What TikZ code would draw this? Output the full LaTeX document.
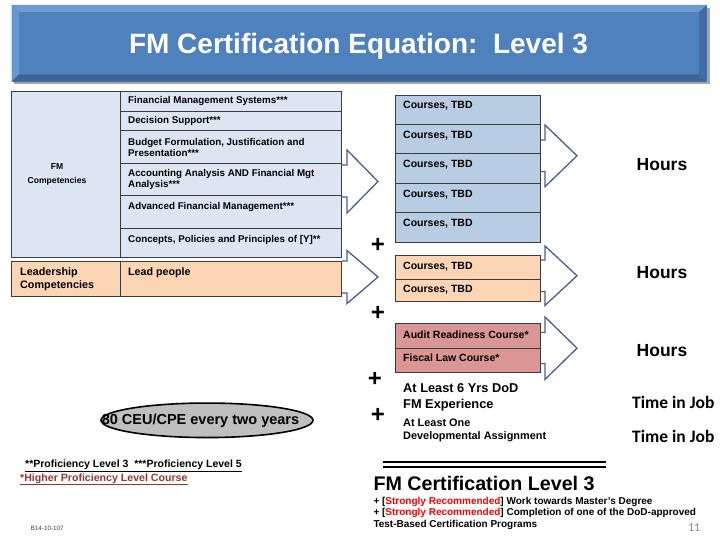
\documentclass[tikz,border=0pt]{standalone}
\usepackage{fontspec}
\setmainfont{Liberation Sans}
\newfontfamily\calibrifont{Carlito}
\usetikzlibrary{positioning, calc, shapes.geometric}
\definecolor{titleblue}{RGB}{79,129,189}
\definecolor{titlelight}{RGB}{110,155,210}
\definecolor{titledark}{RGB}{60,100,150}
\definecolor{rowblue}{RGB}{220,230,242}
\definecolor{courseblue}{RGB}{184,204,228}
\definecolor{courseorange}{RGB}{252,213,180}
\definecolor{coursered}{RGB}{217,150,148}
\definecolor{arrowblue}{RGB}{74,96,138}
\definecolor{cellgray}{RGB}{60,60,60}
\definecolor{ceugray}{RGB}{191,191,191}
\definecolor{footred}{RGB}{149,55,53}
\definecolor{numgray}{RGB}{137,137,137}

\tikzset{
  tablecell/.style={draw=cellgray, line width=0.9pt, anchor=north west, inner sep=0pt, outer sep=0pt},
  rowtext/.style={anchor=west, inner sep=0pt, align=left, font=\bfseries\fontsize{9.8}{11.3}\selectfont},
  coursetext/.style={anchor=west, inner sep=0pt, font=\bfseries\fontsize{10.5}{12}\selectfont},
  blockarrow/.style={draw=arrowblue, line width=1.3pt, fill=white, line join=miter},
  plussign/.style={inner sep=0pt, font=\bfseries\fontsize{24}{24}\selectfont},
  hourstext/.style={inner sep=0pt, font=\bfseries\fontsize{17.5}{20}\selectfont},
  jobtext/.style={inner sep=0pt, font=\calibrifont\bfseries\fontsize{17.5}{20}\selectfont},
  plaintext/.style={anchor=west, inner sep=0pt, align=left},
}

\begin{document}
\begin{tikzpicture}[x=1pt, y=-1pt]
\useasboundingbox[fill=white] (0,0) rectangle (720,540);

% title bar
\fill[black!35] (14,8) rectangle (709.5,84);
\fill[titleblue] (11.7,5) rectangle (706.7,81.7);
\fill[titlelight] (11.7,5) -- (706.7,5) -- (699,12) -- (19,12) -- cycle;
\fill[titlelight!80!titleblue] (11.7,5) -- (19,12) -- (19,74.5) -- (11.7,81.7) -- cycle;
\fill[titledark] (11.7,81.7) -- (19,74.5) -- (699,74.5) -- (706.7,81.7) -- cycle;
\fill[titledark!70!titleblue] (706.7,5) -- (699,12) -- (699,74.5) -- (706.7,81.7) -- cycle;
\node[text=white, inner sep=0pt, font=\bfseries\fontsize{28}{30}\selectfont] (title) at (358.5,46) {FM Certification Equation:\ \ Level 3};

% block arrows
\draw[blockarrow] (342,165) -- (347,165) -- (347,150) -- (378,181.5) -- (347,213) -- (347,197) -- (342,197);
\draw[blockarrow] (342,261) -- (347,261) -- (347,250.5) -- (378,277) -- (347,303.5) -- (347,293) -- (342,293);
\draw[blockarrow] (540,140) -- (545,140) -- (545,125) -- (577,155.8) -- (545,186.6) -- (545,171.5) -- (540,171.5);
\draw[blockarrow] (540,260) -- (545,260) -- (545,246) -- (577,275.7) -- (545,305.4) -- (545,291.4) -- (540,291.4);
\draw[blockarrow] (540,332.5) -- (545,332.5) -- (545,317) -- (577,348.2) -- (545,379.4) -- (545,363.5) -- (540,363.5);

% FM competencies
\node[tablecell, fill=rowblue, minimum width=108.3pt, minimum height=165.6pt] (fmhead) at (11.7,91.7) {};
\node[inner sep=0pt, align=center, font=\bfseries\fontsize{8.6}{14.7}\selectfont] (fmheadtext) at (57,174.5) {FM\\Competencies};
\node[tablecell, fill=rowblue, minimum width=221.7pt, minimum height=19.3pt] (fms) at (120,91.7) {};
\node[rowtext] (fmstext) at (128,101) {Financial Management Systems***};
\node[tablecell, fill=rowblue, minimum width=221.7pt, minimum height=19.7pt] (ds) at (120,111) {};
\node[rowtext] (dstext) at (128,121) {Decision Support***};
\node[tablecell, fill=rowblue, minimum width=221.7pt, minimum height=33pt] (bud) at (120,130.7) {};
\node[rowtext] (budtext) at (128,147.4) {Budget Formulation, Justification and\\Presentation***};
\node[tablecell, fill=rowblue, minimum width=221.7pt, minimum height=32pt] (acc) at (120,163.7) {};
\node[rowtext] (acctext) at (128,179.7) {Accounting Analysis AND Financial Mgt\\Analysis***};
\node[tablecell, fill=rowblue, minimum width=221.7pt, minimum height=32.6pt] (afm) at (120,195.7) {};
\node[rowtext] (afmtext) at (128,206.7) {Advanced Financial Management***};
\node[tablecell, fill=rowblue, minimum width=221.7pt, minimum height=29pt] (cpp) at (120,228.3) {};
\node[rowtext] (cpptext) at (128,240) {Concepts, Policies and Principles of [Y]**};

% leadership competencies
\node[tablecell, fill=courseorange, minimum width=108.3pt, minimum height=35pt] (leadhead) at (11.7,261.7) {};
\node[plaintext, font=\bfseries\fontsize{10.8}{13.7}\selectfont] (leadheadtext) at (20,279.2) {Leadership\\Competencies};
\node[tablecell, fill=courseorange, minimum width=221.7pt, minimum height=35pt] (lead) at (120,261.7) {};
\node[plaintext, font=\bfseries\fontsize{10.7}{12}\selectfont] (leadtext) at (128,272.3) {Lead people};

% courses
\foreach \i in {0,...,4}{
  \node[tablecell, fill=courseblue, minimum width=145pt, minimum height=29.4pt] (cb\i) at (395,{95+29.4*\i}) {};
  \node[coursetext] (cbt\i) at ([xshift=8pt,yshift=-11pt]cb\i.north west) {Courses, TBD};
}
\node[tablecell, fill=courseorange, minimum width=145pt, minimum height=23.3pt] (co0) at (395,255.7) {};
\node[coursetext] (cot0) at ([xshift=8pt,yshift=-10.5pt]co0.north west) {Courses, TBD};
\node[tablecell, fill=courseorange, minimum width=145pt, minimum height=22.7pt] (co1) at (395,279) {};
\node[coursetext] (cot1) at ([xshift=8pt,yshift=-10.2pt]co1.north west) {Courses, TBD};
\node[tablecell, fill=coursered, minimum width=145pt, minimum height=25pt] (cr0) at (395,323) {};
\node[coursetext] (crt0) at ([xshift=8pt,yshift=-11.3pt]cr0.north west) {Audit Readiness Course*};
\node[tablecell, fill=coursered, minimum width=145pt, minimum height=24pt] (cr1) at (395,348) {};
\node[coursetext] (crt1) at ([xshift=8pt,yshift=-9.8pt]cr1.north west) {Fiscal Law Course*};

% plus signs
\node[plussign] (plusa) at (378,245) {+};
\node[plussign] (plusb) at (378,313) {+};
\node[plussign] (plusc) at (375,379.5) {+};
\node[plussign] (plusd) at (378,415) {+};

% experience
\node[plaintext, font=\bfseries\fontsize{12.8}{15.5}\selectfont] (exp) at (403,397.5) {At Least 6 Yrs DoD\\FM Experience};
\node[plaintext, font=\bfseries\fontsize{10.9}{12.7}\selectfont] (dev) at (403,430.3) {At Least One\\Developmental Assignment};

% results
\node[hourstext] (hoursa) at (662,164.5) {Hours};
\node[hourstext] (hoursb) at (662,272.7) {Hours};
\node[hourstext] (hoursc) at (662,351) {Hours};
\node[jobtext] (joba) at (673.3,402.7) {Time in Job};
\node[jobtext] (jobb) at (673.3,436) {Time in Job};

% CEU
\node[ellipse, draw=black, line width=1.6pt, fill=ceugray, minimum width=212pt, minimum height=34.5pt, inner sep=0pt] (ceu) at (207,420.3) {};
\node[inner sep=0pt, font=\bfseries\fontsize{14.5}{16}\selectfont] (ceutext) at (200.5,420.5) {80 CEU/CPE every two years};

% footnotes
\node[plaintext, font=\bfseries\fontsize{10.5}{12}\selectfont] (foota) at (25,466) {\underline{**Proficiency Level 3\ \ ***Proficiency Level 5}};
\node[plaintext, text=footred, font=\bfseries\fontsize{10.6}{12}\selectfont] (footb) at (20,479.3) {\underline{*Higher Proficiency Level Course}};
\node[plaintext, text=black!75, font=\fontsize{6.3}{7}\selectfont] (code) at (30.5,528) {B14-10-107};

% level 3 summary
\draw[line width=2pt] (383,462) -- (606,462);
\draw[line width=2pt] (383,467.3) -- (606,467.3);
\node[plaintext, font=\bfseries\fontsize{19.7}{22}\selectfont] (lvl) at (373.3,483.3) {FM Certification Level 3};
\node[plaintext, font=\bfseries\fontsize{10}{11.7}\selectfont] (rec) at (373.3,513.3) {+ [\textcolor{red}{Strongly Recommended}] Work towards Master's Degree\\+ [\textcolor{red}{Strongly Recommended}] Completion of one of the DoD-approved\\Test-Based Certification Programs};
\node[inner sep=0pt, text=numgray, font=\calibrifont\fontsize{12}{14}\selectfont] (pagenum) at (694.2,528) {11};
\end{tikzpicture}
\end{document}
